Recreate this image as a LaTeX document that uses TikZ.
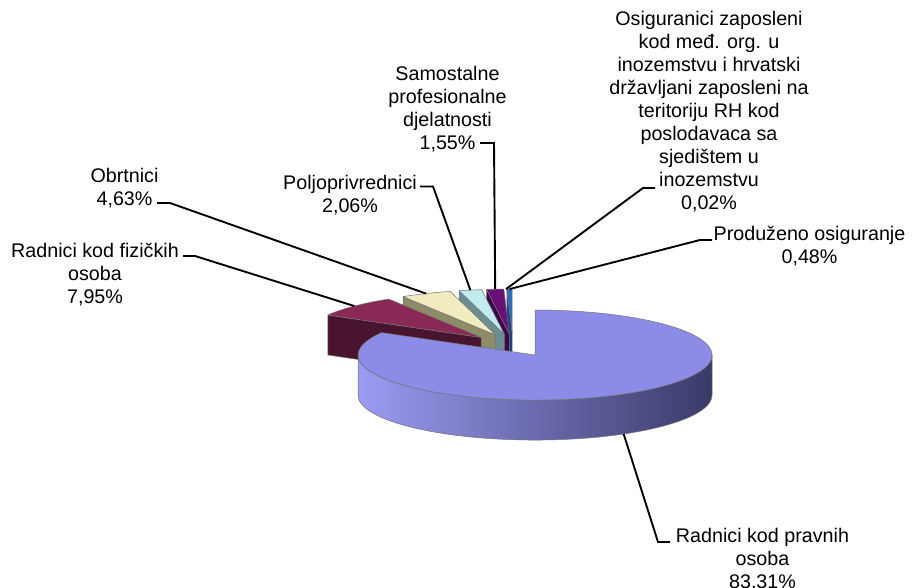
\documentclass[tikz,border=0pt]{standalone}
\usepackage{fontspec}
\setmainfont{Liberation Sans}
\usetikzlibrary{calc}
\definecolor{bigtop}{RGB}{140,140,232}
\definecolor{sideL}{RGB}{155,155,242}
\definecolor{sideM}{RGB}{108,108,190}
\definecolor{sideR}{RGB}{58,58,105}
\definecolor{martop}{RGB}{138,40,86}
\definecolor{marcut}{RGB}{72,20,46}
\definecolor{yeltop}{RGB}{240,236,192}
\definecolor{yelcut}{RGB}{140,140,104}
\definecolor{cyntop}{RGB}{192,236,240}
\definecolor{cyncut}{RGB}{108,142,146}
\definecolor{purtop}{RGB}{104,16,118}
\definecolor{purcut}{RGB}{62,8,72}
\definecolor{blutop}{RGB}{40,108,196}
\definecolor{blucut}{RGB}{22,64,128}
\newcommand\pieslice[5]{%
  \pgfmathsetmacro\pieB{(#1+#2)/2}%
  \pgfmathsetmacro\pieX{512.9+0.25*177*cos(\pieB)}%
  \pgfmathsetmacro\pieY{345.3-0.25*45*sin(\pieB)}%
  \coordinate (#5c) at (\pieX,\pieY);
  \coordinate (#5e) at ($(#5c)+({177*cos(#2)},{-45*sin(#2)})$);
  \coordinate (#5s) at ($(#5c)+({177*cos(#1)},{-45*sin(#1)})$);
  \coordinate (#5m) at ($(#5c)+({177*cos(\pieB)},{-45*sin(\pieB)})$);
  \filldraw[fill=#4, edge] (#5c) -- (#5e) -- ($(#5e)+(0,40)$) -- ($(#5c)+(0,40)$) -- cycle;
  \filldraw[fill=#3, edge] (#5c) -- (#5s) arc[start angle=-#1, end angle=-#2, x radius=177, y radius=45] -- cycle;
}
\begin{document}
\begin{tikzpicture}[x=1pt,y=-1pt,
  lab/.style={inner sep=0pt, align=center, anchor=north, font=\fontsize{19.7}{23}\selectfont},
  leader/.style={line width=1.9pt, black, line join=miter},
  edge/.style={draw=black!55, line width=0.5pt, line join=round}]
\useasboundingbox (0,0) rectangle (915,588);

% small exploded slices, back to front
\pieslice{90}{91.728}{blutop}{blucut}{blu}
\pgfmathsetmacro\pieT{(91.728+91.8)/2}
\coordinate (tinyc) at ({512.9+0.25*177*cos(\pieT)},{345.3-0.25*45*sin(\pieT)});
\coordinate (tinym) at ($(tinyc)+({177*cos(\pieT)},{-45*sin(\pieT)})$);
\pieslice{91.8}{97.38}{purtop}{purcut}{pur}
\pieslice{97.38}{104.796}{cyntop}{cyncut}{cyn}
\pieslice{104.796}{121.464}{yeltop}{yelcut}{yel}
\pieslice{121.464}{150.084}{martop}{marcut}{mar}

% big slice
\coordinate (B) at (535.05,355.04);
\coordinate (bigm) at ($(B)+({177*cos(300.04)},{-45*sin(300.04)+40})$);
\path[left color=sideL, middle color=sideM, right color=sideR, edge]
  ($(B)+(-177,0)$) arc[start angle=-180, end angle=-360, x radius=177, y radius=45]
  -- ($(B)+(177,40)$) arc[start angle=0, end angle=180, x radius=177, y radius=45] -- cycle;
\filldraw[fill=bigtop, edge] (B) -- ($(B)+(0,-45)$)
  arc[start angle=-90, end angle=209.916, x radius=177, y radius=45] -- cycle;

% labels
\node[lab] (osig) at (709,11.2) {Osiguranici zaposleni\\kod međ. org. u\\inozemstvu i hrvatski\\državljani zaposleni na\\teritoriju RH kod\\poslodavaca sa\\sjedištem u\\inozemstvu\\0,02\%};
\node[lab] (samo) at (447.5,65.7) {Samostalne\\profesionalne\\djelatnosti\\1,55\%};
\node[lab] (polj) at (350,175.2) {Poljoprivrednici\\2,06\%};
\node[lab] (obrt) at (124.5,168.2) {Obrtnici\\4,63\%};
\node[lab] (fiz) at (95,242.7) {Radnici kod fizičkih\\osoba\\7,95\%};
\node[lab] (prod) at (809.5,225.7) {Produženo osiguranje\\0,48\%};
\node[lab] (prav) at (762.5,527.7) {Radnici kod pravnih\\osoba\\83,31\%};

% leader lines
\coordinate (osigA) at (655,188);   \coordinate (osigB) at (643,188);
\coordinate (prodA) at (712,240);   \coordinate (prodB) at (700,240);
\coordinate (samoA) at (480,143);   \coordinate (samoB) at (494,143);
\coordinate (poljA) at (420,186.5); \coordinate (poljB) at (433,186.5);
\coordinate (obrtA) at (157,203);   \coordinate (obrtB) at (170,203);
\coordinate (fizA) at (183,256);    \coordinate (fizB) at (195,256);
\coordinate (pravA) at (670,542);   \coordinate (pravB) at (658,542);
\draw[leader] (osigA) -- (osigB) -- (tinym);
\draw[leader] (prodA) -- (prodB) -- (blum);
\draw[leader] (samoA) -- (samoB) -- (purm);
\draw[leader] (poljA) -- (poljB) -- (cynm);
\draw[leader] (obrtA) -- (obrtB) -- (yelm);
\draw[leader] (fizA) -- (fizB) -- (marm);
\draw[leader] (pravA) -- (pravB) -- (bigm);
\end{tikzpicture}
\end{document}
